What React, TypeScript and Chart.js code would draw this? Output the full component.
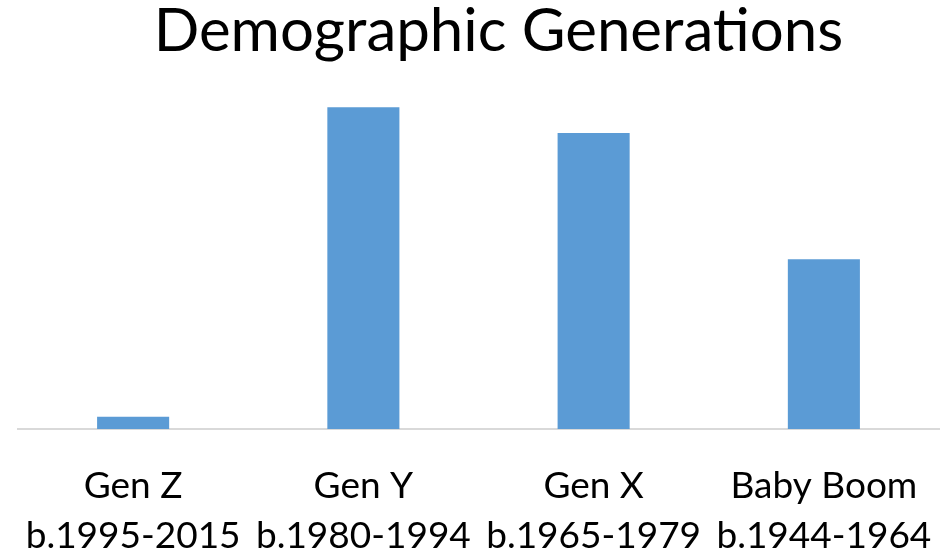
import React, { useEffect, useRef } from "react";
import { Chart, registerables } from "chart.js";

Chart.register(...registerables);

const chartTitle = "Demographic Generations";
const categories: string[][] = [
  ["Gen Z", "b.1995-2015"],
  ["Gen Y", "b.1980-1994"],
  ["Gen X", "b.1965-1979"],
  ["Baby Boom", "b.1944-1964"],
];
const values: number[] = [3.6, 94.9, 87.3, 50.1];
const yMax = 100;

const FONT = "Lato, 'Open Sans', sans-serif";

const titlePlugin = {
  id: "customTitle",
  afterDraw(chart: any) {
    const ctx = chart.ctx;
    ctx.save();
    ctx.font = `60px ${FONT}`;
    ctx.fillStyle = "#000000";
    ctx.textAlign = "center";
    ctx.textBaseline = "alphabetic";
    ctx.fillText(chartTitle, 498.5, 51);
    ctx.restore();
  },
};

export default function App() {
  const ref = useRef<HTMLCanvasElement | null>(null);
  useEffect(() => {
    if (!ref.current) return;
    const chart = new Chart(ref.current, {
      type: "bar",
      data: {
        labels: categories,
        datasets: [
          {
            data: values,
            backgroundColor: "#5B9BD5",
            borderWidth: 0,
            categoryPercentage: 1,
            barPercentage: 0.313,
          },
        ],
      },
      options: {
        responsive: false,
        animation: false,
        layout: { padding: { top: 90, left: 18, right: 9, bottom: 0 } },
        plugins: {
          legend: { display: false },
          title: { display: false },
          tooltip: { enabled: false },
        },
        scales: {
          x: {
            grid: { display: false },
            border: { display: true, color: "#D9D9D9", width: 2 },
            ticks: {
              color: "#000000",
              font: { family: FONT, size: 37, lineHeight: 1.35 },
              padding: 24,
              maxRotation: 0,
              autoSkip: false,
            },
            afterFit: (s: any) => {
              s.height = 124;
              s.paddingLeft = 0;
              s.paddingRight = 0;
            },
          },
          y: {
            display: false,
            min: 0,
            max: yMax,
          },
        },
      },
      plugins: [titlePlugin],
    });
    return () => chart.destroy();
  }, []);
  return (
    <div style={{ position: "absolute", left: 0, top: 0, width: 948, height: 553, background: "#ffffff" }}>
      <canvas ref={ref} width={948} height={553} />
    </div>
  );
}
